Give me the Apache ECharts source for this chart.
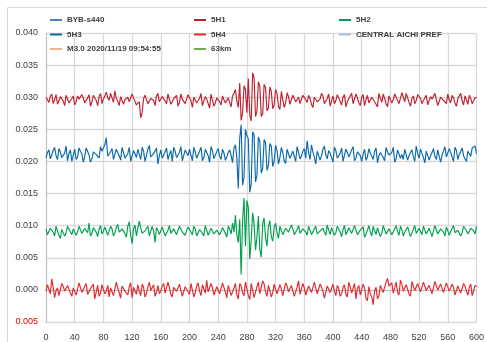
<!DOCTYPE html>
<html><head><meta charset="utf-8">
<script src="https://cdn.jsdelivr.net/npm/echarts@6/dist/echarts.min.js"></script>
<style>html,body{margin:0;padding:0;background:#fff}#c{width:487px;height:342px}</style>
</head><body><div id="c"></div>
<script>
// traces are sampled every 2 s: "A" arrays hold t = 0,4,8,...,600 ; "B" arrays hold t = 2,6,10,...,598
const sampleStep = 4;
const xTicks = [0,40,80,120,160,200,240,280,320,360,400,440,480,520,560,600];

const s5H1A = [0.0300,0.0292,0.0305,0.0296,0.0289,0.0301,0.0294,0.0303,0.0291,0.0298,
0.0288,0.0302,0.0295,0.0299,0.0290,0.0304,0.0293,0.0300,0.0287,0.0306,
0.0297,0.0308,0.0295,0.0303,0.0310,0.0294,0.0301,0.0289,0.0299,0.0293,
0.0305,0.0296,0.0285,0.0268,0.0298,0.0304,0.0292,0.0300,0.0287,0.0306,
0.0295,0.0299,0.0290,0.0303,0.0293,0.0300,0.0286,0.0305,0.0296,0.0291,
0.0302,0.0284,0.0299,0.0293,0.0306,0.0289,0.0297,0.0283,0.0295,0.0291,
0.0300,0.0288,0.0296,0.0290,0.0298,0.0302,0.0312,0.0284,0.0264,0.0318,
0.0276,0.0272,0.0338,0.0270,0.0324,0.0270,0.0320,0.0279,0.0316,0.0282,
0.0312,0.0286,0.0309,0.0284,0.0307,0.0289,0.0303,0.0293,0.0300,0.0287,
0.0304,0.0292,0.0298,0.0284,0.0301,0.0294,0.0306,0.0290,0.0298,0.0286,
0.0302,0.0295,0.0299,0.0288,0.0304,0.0293,0.0297,0.0290,0.0305,0.0291,
0.0300,0.0287,0.0303,0.0294,0.0299,0.0289,0.0306,0.0292,0.0298,0.0285,
0.0303,0.0296,0.0300,0.0290,0.0307,0.0293,0.0299,0.0286,0.0302,0.0295,
0.0304,0.0290,0.0298,0.0288,0.0301,0.0294,0.0303,0.0289,0.0297,0.0292,
0.0305,0.0291,0.0299,0.0286,0.0300,0.0294,0.0302,0.0289,0.0298,0.0293,
0.0300];
const s5H1B = [0.0296,0.0301,0.0290,0.0304,0.0295,0.0298,0.0287,0.0300,0.0294,0.0302,
0.0293,0.0297,0.0304,0.0291,0.0299,0.0286,0.0303,0.0295,0.0301,0.0290,
0.0302,0.0299,0.0306,0.0292,0.0298,0.0287,0.0304,0.0296,0.0300,0.0291,
0.0299,0.0288,0.0293,0.0276,0.0303,0.0290,0.0298,0.0295,0.0302,0.0293,
0.0301,0.0294,0.0305,0.0289,0.0298,0.0303,0.0292,0.0297,0.0290,0.0304,
0.0295,0.0300,0.0291,0.0298,0.0287,0.0301,0.0290,0.0305,0.0286,0.0299,
0.0293,0.0302,0.0291,0.0299,0.0285,0.0306,0.0294,0.0322,0.0276,0.0312,
0.0329,0.0263,0.0331,0.0278,0.0318,0.0274,0.0315,0.0283,0.0309,0.0288,
0.0306,0.0281,0.0311,0.0291,0.0301,0.0286,0.0306,0.0295,0.0290,0.0303,
0.0296,0.0303,0.0289,0.0300,0.0293,0.0297,0.0302,0.0288,0.0305,0.0294,
0.0290,0.0304,0.0296,0.0300,0.0285,0.0298,0.0306,0.0292,0.0299,0.0287,
0.0304,0.0296,0.0291,0.0300,0.0293,0.0285,0.0299,0.0305,0.0290,0.0302,
0.0291,0.0305,0.0295,0.0289,0.0300,0.0306,0.0292,0.0298,0.0290,0.0304,
0.0298,0.0295,0.0303,0.0291,0.0297,0.0306,0.0287,0.0300,0.0295,0.0290,
0.0296,0.0303,0.0291,0.0298,0.0306,0.0288,0.0296,0.0303,0.0290,0.0299];

const s5H3A = [0.0205,0.0218,0.0210,0.0222,0.0203,0.0215,0.0208,0.0224,0.0212,0.0200,
0.0219,0.0207,0.0216,0.0199,0.0221,0.0210,0.0204,0.0218,0.0209,0.0223,
0.0213,0.0237,0.0206,0.0220,0.0211,0.0217,0.0202,0.0214,0.0208,0.0222,
0.0198,0.0212,0.0219,0.0203,0.0216,0.0209,0.0225,0.0205,0.0214,0.0196,
0.0218,0.0207,0.0221,0.0211,0.0200,0.0216,0.0209,0.0223,0.0204,0.0213,
0.0219,0.0201,0.0215,0.0208,0.0222,0.0206,0.0214,0.0199,0.0217,0.0210,
0.0220,0.0203,0.0213,0.0207,0.0218,0.0198,0.0226,0.0158,0.0257,0.0175,
0.0240,0.0152,0.0246,0.0168,0.0238,0.0182,0.0234,0.0186,0.0228,0.0192,
0.0225,0.0196,0.0222,0.0201,0.0219,0.0205,0.0216,0.0200,0.0214,0.0208,
0.0220,0.0232,0.0203,0.0215,0.0196,0.0218,0.0209,0.0224,0.0204,0.0213,
0.0199,0.0217,0.0208,0.0221,0.0202,0.0214,0.0210,0.0223,0.0205,0.0216,
0.0200,0.0219,0.0207,0.0213,0.0203,0.0221,0.0209,0.0217,0.0201,0.0215,
0.0208,0.0222,0.0204,0.0216,0.0211,0.0219,0.0202,0.0214,0.0207,0.0224,
0.0205,0.0213,0.0198,0.0218,0.0209,0.0220,0.0203,0.0215,0.0210,0.0223,
0.0206,0.0214,0.0200,0.0217,0.0211,0.0221,0.0204,0.0216,0.0208,0.0219,
0.0212];
const s5H3B = [0.0214,0.0204,0.0217,0.0209,0.0220,0.0206,0.0213,0.0201,0.0218,0.0210,
0.0203,0.0221,0.0212,0.0208,0.0224,0.0199,0.0215,0.0211,0.0205,0.0216,
0.0226,0.0208,0.0215,0.0203,0.0219,0.0209,0.0222,0.0205,0.0212,0.0200,
0.0217,0.0206,0.0211,0.0222,0.0200,0.0219,0.0207,0.0212,0.0221,0.0209,
0.0205,0.0215,0.0203,0.0217,0.0222,0.0206,0.0214,0.0201,0.0218,0.0209,
0.0210,0.0222,0.0205,0.0216,0.0201,0.0219,0.0209,0.0223,0.0204,0.0215,
0.0208,0.0219,0.0202,0.0214,0.0209,0.0221,0.0205,0.0236,0.0163,0.0250,
0.0235,0.0165,0.0242,0.0178,0.0231,0.0189,0.0229,0.0194,0.0224,0.0200,
0.0217,0.0206,0.0214,0.0197,0.0222,0.0208,0.0213,0.0223,0.0204,0.0216,
0.0205,0.0214,0.0226,0.0207,0.0216,0.0202,0.0219,0.0210,0.0217,0.0206,
0.0222,0.0205,0.0213,0.0200,0.0219,0.0207,0.0218,0.0201,0.0215,0.0209,
0.0211,0.0202,0.0220,0.0210,0.0216,0.0198,0.0214,0.0206,0.0222,0.0210,
0.0214,0.0199,0.0218,0.0205,0.0203,0.0221,0.0209,0.0218,0.0200,0.0213,
0.0219,0.0206,0.0216,0.0202,0.0214,0.0208,0.0218,0.0199,0.0216,0.0207,
0.0220,0.0207,0.0222,0.0203,0.0215,0.0209,0.0200,0.0213,0.0221,0.0224];

const s5H2A = [0.0095,0.0088,0.0098,0.0084,0.0092,0.0080,0.0097,0.0089,0.0101,0.0086,
0.0094,0.0090,0.0099,0.0085,0.0093,0.0104,0.0088,0.0096,0.0083,0.0100,
0.0091,0.0097,0.0086,0.0095,0.0089,0.0102,0.0087,0.0094,0.0082,0.0106,
0.0072,0.0101,0.0086,0.0097,0.0090,0.0095,0.0084,0.0099,0.0074,0.0093,
0.0088,0.0096,0.0085,0.0100,0.0090,0.0094,0.0083,0.0098,0.0087,0.0092,
0.0101,0.0086,0.0095,0.0089,0.0097,0.0084,0.0093,0.0088,0.0099,0.0085,
0.0096,0.0091,0.0100,0.0082,0.0095,0.0104,0.0116,0.0074,0.0024,0.0143,
0.0139,0.0048,0.0120,0.0062,0.0115,0.0051,0.0112,0.0068,0.0108,0.0076,
0.0104,0.0080,0.0101,0.0084,0.0098,0.0087,0.0095,0.0083,0.0100,0.0090,
0.0096,0.0085,0.0093,0.0088,0.0099,0.0084,0.0094,0.0090,0.0101,0.0086,
0.0095,0.0089,0.0097,0.0083,0.0100,0.0091,0.0094,0.0085,0.0098,0.0088,
0.0096,0.0082,0.0093,0.0090,0.0099,0.0086,0.0095,0.0088,0.0097,0.0084,
0.0092,0.0089,0.0100,0.0085,0.0094,0.0090,0.0098,0.0083,0.0095,0.0088,
0.0096,0.0086,0.0093,0.0090,0.0099,0.0085,0.0094,0.0089,0.0097,0.0084,
0.0092,0.0091,0.0100,0.0086,0.0095,0.0089,0.0098,0.0087,0.0096,0.0092,
0.0099];
const s5H2B = [0.0086,0.0096,0.0090,0.0099,0.0085,0.0094,0.0084,0.0099,0.0090,0.0095,
0.0085,0.0099,0.0088,0.0096,0.0089,0.0084,0.0097,0.0090,0.0095,0.0087,
0.0098,0.0085,0.0099,0.0084,0.0097,0.0090,0.0095,0.0088,0.0099,0.0085,
0.0095,0.0084,0.0107,0.0088,0.0092,0.0099,0.0087,0.0091,0.0097,0.0086,
0.0098,0.0084,0.0093,0.0088,0.0095,0.0086,0.0099,0.0090,0.0085,0.0098,
0.0090,0.0099,0.0084,0.0094,0.0088,0.0100,0.0085,0.0096,0.0087,0.0093,
0.0086,0.0097,0.0088,0.0099,0.0087,0.0090,0.0086,0.0110,0.0108,0.0068,
0.0128,0.0077,0.0104,0.0082,0.0063,0.0103,0.0081,0.0099,0.0083,0.0097,
0.0089,0.0099,0.0086,0.0096,0.0090,0.0101,0.0086,0.0094,0.0088,0.0095,
0.0090,0.0099,0.0086,0.0095,0.0087,0.0092,0.0096,0.0085,0.0093,0.0097,
0.0085,0.0099,0.0090,0.0094,0.0086,0.0097,0.0088,0.0100,0.0086,0.0093,
0.0098,0.0087,0.0100,0.0084,0.0092,0.0097,0.0083,0.0100,0.0087,0.0095,
0.0086,0.0095,0.0091,0.0099,0.0084,0.0092,0.0097,0.0088,0.0100,0.0086,
0.0093,0.0099,0.0087,0.0096,0.0083,0.0100,0.0087,0.0095,0.0090,0.0098,
0.0085,0.0096,0.0089,0.0093,0.0084,0.0099,0.0092,0.0089,0.0095,0.0087];

const s5H4A = [-0.0002,0.0005,0.0017,-0.0012,0.0003,-0.0008,0.0006,-0.0004,0.0009,-0.0010,
0.0002,-0.0006,0.0008,-0.0003,0.0010,-0.0009,0.0004,-0.0014,0.0007,-0.0005,
0.0011,-0.0002,-0.0011,0.0006,-0.0007,0.0003,-0.0013,0.0009,-0.0004,0.0005,
-0.0012,0.0001,0.0008,-0.0009,0.0004,-0.0006,0.0012,-0.0003,-0.0010,0.0007,
-0.0002,0.0010,-0.0008,0.0003,-0.0011,0.0006,-0.0005,0.0009,-0.0013,0.0002,
-0.0007,0.0008,-0.0004,0.0011,-0.0009,0.0005,0.0015,-0.0006,0.0003,-0.0010,
0.0007,-0.0003,0.0009,-0.0012,0.0004,-0.0006,0.0010,-0.0014,0.0006,-0.0009,
0.0013,-0.0015,0.0008,-0.0011,0.0012,-0.0007,0.0009,-0.0010,0.0005,-0.0004,
0.0011,-0.0008,0.0002,-0.0012,0.0006,-0.0003,0.0009,-0.0007,0.0014,-0.0005,
0.0003,-0.0010,0.0007,-0.0002,0.0010,-0.0008,0.0004,-0.0013,0.0006,-0.0004,
0.0009,-0.0009,0.0002,-0.0006,0.0008,-0.0011,0.0005,-0.0003,-0.0014,0.0007,
-0.0008,0.0003,-0.0017,-0.0006,-0.0023,0.0004,-0.0009,0.0010,-0.0002,0.0018,
0.0007,-0.0005,0.0012,-0.0008,0.0009,-0.0003,0.0006,-0.0010,0.0013,0.0002,
0.0008,-0.0006,0.0011,-0.0004,0.0005,-0.0009,0.0010,-0.0002,0.0007,-0.0007,
0.0012,-0.0005,0.0004,-0.0011,0.0008,-0.0003,0.0006,-0.0008,0.0009,-0.0001,
0.0005];
const s5H4B = [0.0008,-0.0006,0.0004,-0.0001,-0.0009,0.0010,-0.0002,0.0007,-0.0005,0.0003,
-0.0008,0.0011,-0.0004,0.0006,-0.0007,0.0002,0.0009,-0.0003,-0.0010,0.0008,
-0.0006,0.0007,0.0003,-0.0009,0.0012,-0.0004,0.0006,-0.0002,-0.0008,0.0011,
0.0004,-0.0007,-0.0002,0.0009,-0.0011,0.0005,-0.0001,0.0008,-0.0004,-0.0006,
0.0006,-0.0005,0.0012,-0.0007,0.0004,-0.0002,0.0009,-0.0010,0.0005,-0.0003,
0.0010,-0.0011,0.0006,-0.0002,0.0008,-0.0005,-0.0003,0.0010,-0.0008,0.0005,
-0.0006,0.0011,-0.0004,0.0007,-0.0009,0.0003,-0.0008,0.0010,-0.0004,0.0012,
-0.0009,0.0010,-0.0012,0.0005,-0.0006,0.0014,-0.0003,0.0007,-0.0011,0.0009,
-0.0006,0.0008,-0.0009,0.0011,-0.0003,0.0007,-0.0010,0.0004,-0.0007,0.0010,
-0.0008,0.0006,-0.0004,0.0012,-0.0006,0.0009,-0.0002,-0.0011,0.0008,-0.0005,
-0.0002,0.0007,-0.0010,0.0004,-0.0007,0.0012,-0.0005,0.0010,0.0002,-0.0008,
0.0009,-0.0013,0.0005,-0.0011,-0.0002,-0.0014,0.0007,-0.0004,0.0012,0.0006,
0.0011,0.0003,-0.0004,0.0015,-0.0002,0.0008,-0.0006,0.0013,-0.0001,0.0010,
-0.0003,0.0012,-0.0001,0.0007,-0.0006,0.0013,0.0000,0.0009,-0.0004,0.0011,
-0.0002,0.0009,-0.0008,0.0006,-0.0005,0.0010,-0.0002,0.0004,-0.0009,0.0007];

const legendCol1 = ['BYB-s440','5H3','M3.0 2020/11/19 09:54:55'];
const legendCol2 = ['5H1','5H4','63km'];
const legendCol3 = ['5H2','CENTRAL AICHI PREF'];

const colors = {
  'BYB-s440':'#4f81bd','5H1':'#c0202e','5H2':'#00a04e','5H3':'#0a69ab','5H4':'#e02a2e',
  'CENTRAL AICHI PREF':'#9dc3e6','M3.0 2020/11/19 09:54:55':'#f4b183','63km':'#70ad47'
};

function pairs(a, b){
  const out = [];
  for (let i = 0; i < a.length; i++) {
    out.push([i*sampleStep, a[i]]);
    if (i < b.length) out.push([i*sampleStep + sampleStep/2, b[i]]);
  }
  return out;
}

const traces = {'5H1':[s5H1A,s5H1B],'5H3':[s5H3A,s5H3B],'5H2':[s5H2A,s5H2B],'5H4':[s5H4A,s5H4B]};
const allNames = ['BYB-s440','5H1','5H2','5H3','5H4','CENTRAL AICHI PREF','M3.0 2020/11/19 09:54:55','63km'];
const series = allNames.map(n=>({
  name:n, type:'line', data: traces[n] ? pairs(traces[n][0], traces[n][1]) : [],
  showSymbol:false, symbol:'none', lineStyle:{width:1.15, color:colors[n]}, itemStyle:{color:colors[n]},
  animation:false
}));

const legendText = {fontFamily:'Liberation Sans, Arial', fontSize:8, fontWeight:'bold', color:'#404040'};
function mkLegend(names, left){
  return {data:names, orient:'vertical', left:left, top:16, itemGap:6.5, itemWidth:12, itemHeight:2,
    icon:'rect', textStyle:legendText, selectedMode:false, padding:0};
}

const chart = echarts.init(document.getElementById('c'), null, {renderer:'canvas'});
chart.setOption({
  animation:false,
  backgroundColor:'#fff',
  graphic:[{type:'rect', shape:{x:7.5,y:7.5,width:490,height:345}, style:{fill:'none', stroke:'#d9d9d9', lineWidth:1}, silent:true, z:-10}],
  grid:{left:46, right:8, top:33, bottom:19, containLabel:false},
  legend:[mkLegend(legendCol1,50), mkLegend(legendCol2,194), mkLegend(legendCol3,339)],
  xAxis:{type:'value', min:0, max:600, interval:40,
    axisLine:{show:true, lineStyle:{color:'#bfbfbf', width:1}}, axisTick:{show:false},
    splitLine:{show:true, lineStyle:{color:'#d9d9d9', width:1.3}},
    axisLabel:{fontFamily:'Liberation Sans, Arial', fontSize:9, color:'#404040', margin:11,
      formatter:v=> xTicks.includes(v) ? String(v) : ''}},
  yAxis:{type:'value', min:-0.005, max:0.04, interval:0.005,
    axisLine:{show:true, lineStyle:{color:'#bfbfbf', width:1}}, axisTick:{show:false},
    splitLine:{show:true, lineStyle:{color:'#d9d9d9', width:1.3}},
    axisLabel:{fontFamily:'Liberation Sans, Arial', fontSize:9, color:'#404040', margin:8,
      formatter:v=>{ const r=Math.round(v*1000)/1000; return r<0 ? '{neg|'+Math.abs(r).toFixed(3)+'}' : r.toFixed(3); },
      rich:{neg:{color:'#e00000', fontFamily:'Liberation Sans, Arial', fontSize:9}}}},
  series:series
});
</script></body></html>
